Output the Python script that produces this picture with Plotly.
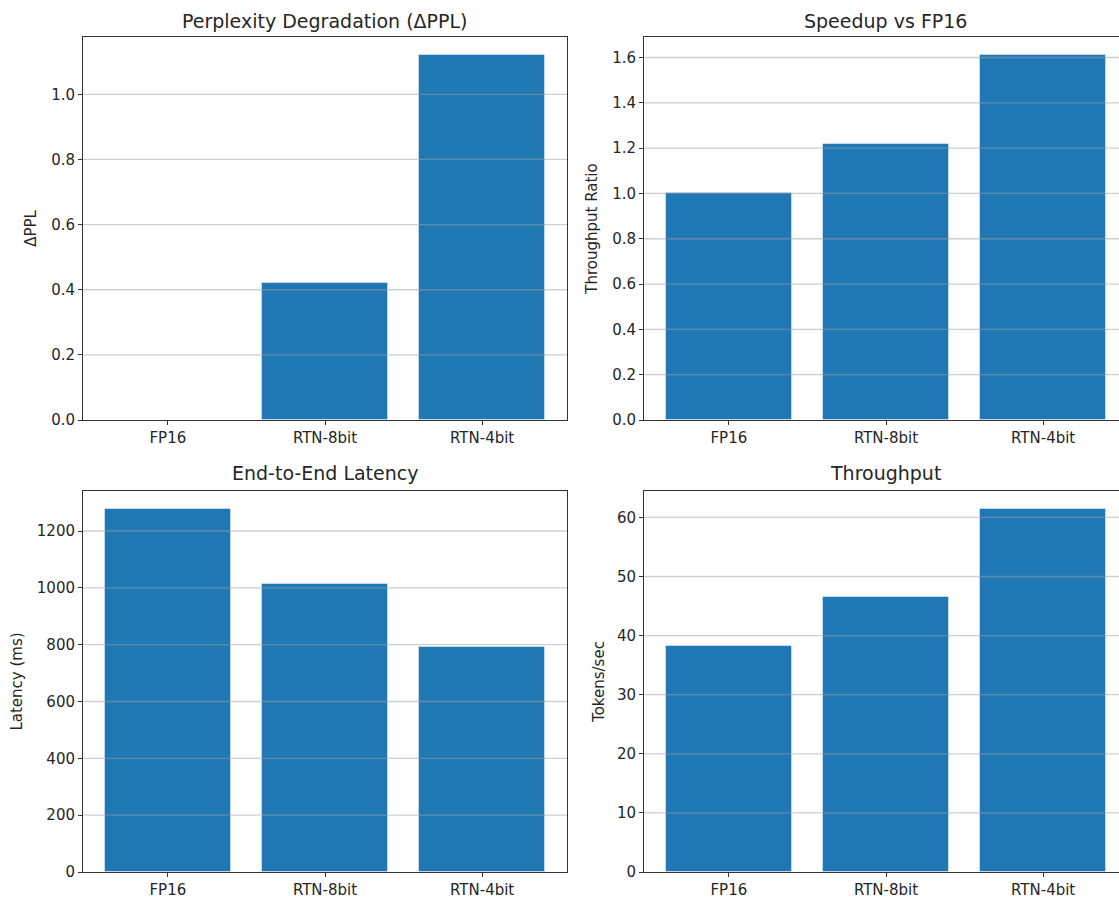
import plotly.graph_objects as go

methods = ["FP16", "RTN-8bit", "RTN-4bit"]
delta_ppl = [0.0, 0.42, 1.12]
speedup = [1.0, 1.22, 1.61]
latency_ms = [1277, 1014, 791]
tokens_per_sec = [38.2, 46.5, 61.4]

titles = ["Perplexity Degradation (ΔPPL)", "Speedup vs FP16", "End-to-End Latency", "Throughput"]
ylabels = ["ΔPPL", "Throughput Ratio", "Latency (ms)", "Tokens/sec"]
series = [delta_ppl, speedup, latency_ms, tokens_per_sec]
yticks = [
    [0.0, 0.2, 0.4, 0.6, 0.8, 1.0],
    [0.0, 0.2, 0.4, 0.6, 0.8, 1.0, 1.2, 1.4, 1.6],
    [0, 200, 400, 600, 800, 1000, 1200],
    [0, 10, 20, 30, 40, 50, 60],
]
ytickfmt = [".1f", ".1f", "d", "d"]
standoffs = [10, 10, 10, 8]

W, H = 1119, 898
FONT = "DejaVu Sans"
TICK = 15
TITLE = 19
BLUE = "#1f77b4"
SPINE = "#333333"
TXT = "#262626"

fig = go.Figure()

# panel geometry in pixels (left, right, top, bottom)
panels = [
    (83, 567, 37, 420),
    (644, 1119, 37, 420),
    (83, 567, 491, 872),
    (644, 1119, 491, 872),
]
centers = [325, 885, 325, 885]
title_y = [21, 21, 473, 473]
unit_px = 484 / 3.08

for i, (vals, (l, r, t, b)) in enumerate(zip(series, panels)):
    n = i + 1
    xa = "x" if n == 1 else f"x{n}"
    ya = "y" if n == 1 else f"y{n}"
    fig.add_trace(go.Bar(
        x=methods, y=vals, xaxis=xa, yaxis=ya,
        marker=dict(color=BLUE, line=dict(color="rgba(255,255,255,0.45)", width=1)),
        width=0.8, showlegend=False,
    ))
    span = (r - l) / unit_px
    ymax = max(vals) * 1.05
    xkey = "xaxis" if n == 1 else f"xaxis{n}"
    ykey = "yaxis" if n == 1 else f"yaxis{n}"
    right_cut = (n in (2, 4))
    fig.layout[xkey] = dict(
        domain=[l / W, r / W], anchor=ya, range=[-0.54, -0.54 + span],
        showgrid=False, showline=True, linecolor=SPINE, linewidth=1, mirror=True,
        ticks="outside", ticklen=4, tickcolor=SPINE, tickwidth=1,
        tickfont=dict(family=FONT, size=TICK, color=TXT), fixedrange=True,
        zeroline=False, automargin=False,
    )
    fig.layout[ykey] = dict(
        domain=[1 - b / H, 1 - t / H], anchor=xa, range=[0, ymax],
        tickvals=yticks[i], tickformat=ytickfmt[i],
        showgrid=False, showline=True, linecolor=SPINE, linewidth=1,
        mirror=False if right_cut else True,
        ticks="outside", ticklen=4, tickcolor=SPINE, tickwidth=1,
        tickfont=dict(family=FONT, size=TICK, color=TXT), zeroline=False,
        automargin=False,
        title=dict(text=ylabels[i], font=dict(family=FONT, size=TICK, color=TXT),
                   standoff=standoffs[i]),
    )
    # gridlines drawn above bars, as in the reference
    for v in yticks[i][1:]:
        fig.add_shape(type="line", xref=f"{xa} domain", yref=ya, x0=0, x1=1, y0=v, y1=v,
                      line=dict(color="rgba(160,160,160,0.5)", width=1.3), layer="above")
    fig.add_annotation(text=titles[i], xref="paper", yref="paper",
                       x=centers[i] / W, xanchor="center",
                       y=1 - title_y[i] / H, yanchor="middle", showarrow=False,
                       font=dict(family=FONT, size=TITLE, color=TXT))

fig.update_layout(
    template="none",
    width=W, height=H, margin=dict(l=0, r=0, t=0, b=0, autoexpand=False),
    paper_bgcolor="white", plot_bgcolor="white",
    font=dict(family=FONT, color=TXT),
    bargap=0, showlegend=False,
)
fig.write_html("out.html")
